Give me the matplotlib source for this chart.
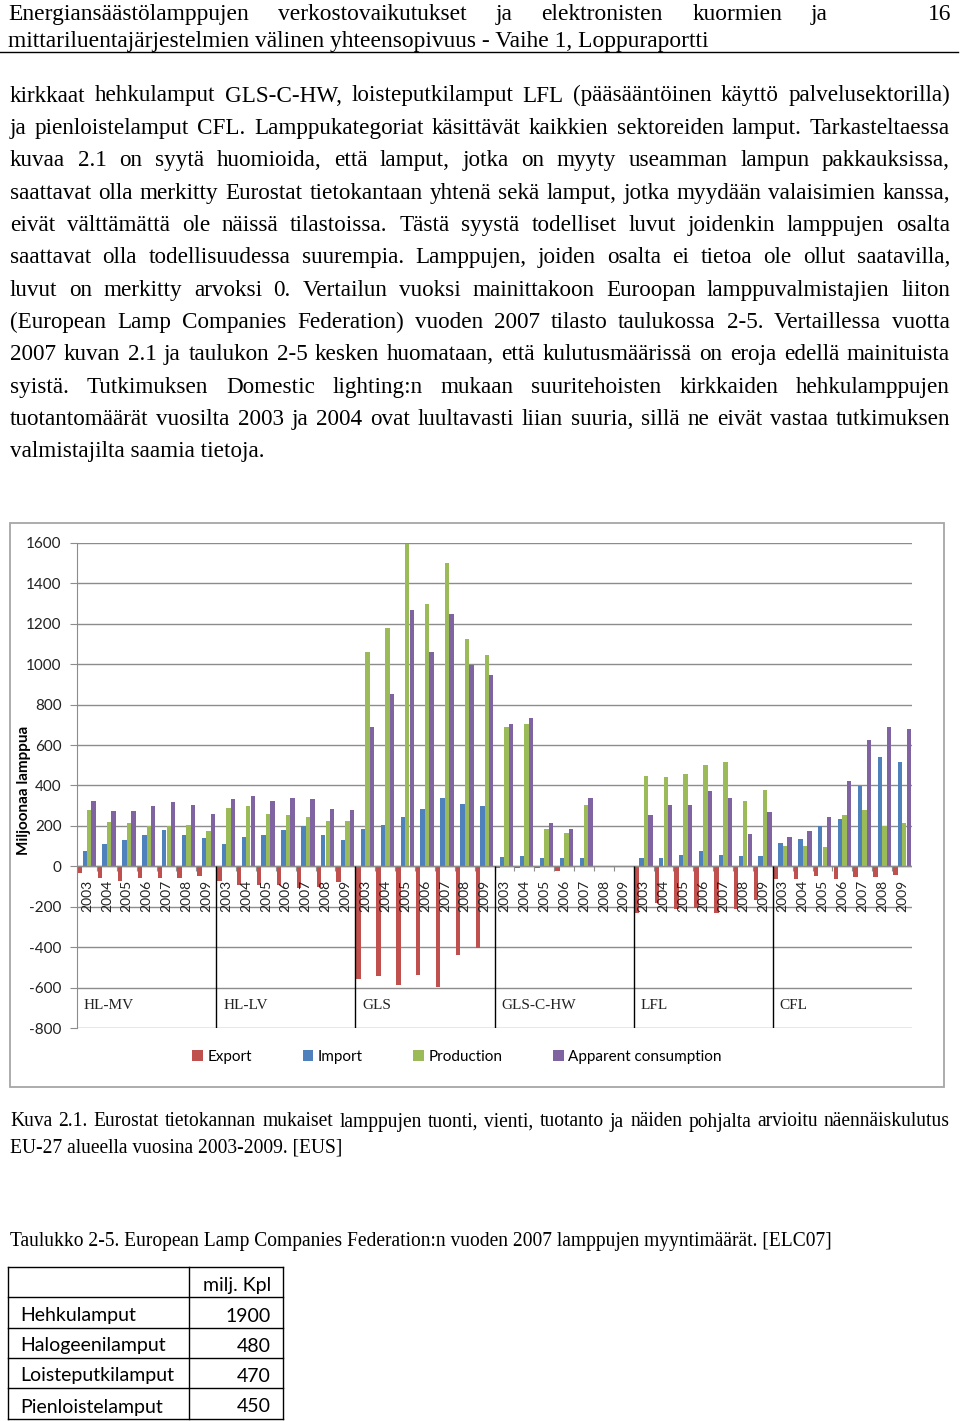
import matplotlib
matplotlib.use('Agg')
import matplotlib.pyplot as plt
import numpy as np
from matplotlib.patches import Rectangle
from matplotlib.lines import Line2D

# ---------------- data ----------------
groups = ["HL-MV", "HL-LV", "GLS", "GLS-C-HW", "LFL", "CFL"]
years = ["2003", "2004", "2005", "2006", "2007", "2008", "2009"]
series_names = ["Export", "Import", "Production", "Apparent consumption"]

export_vals = [-33, -58, -75, -58, -58, -58, -47,
               -75, -92, -92, -92, -108, -100, -80,
               -558, -542, -587, -537, -597, -438, -403,
               -10, -8, -8, -25, -3, 0, 0,
               -230, -180, -213, -208, -230, -213, -167,
               -63, -63, -50, -63, -55, -55, -42]
import_vals = [75, 112, 130, 155, 178, 155, 142,
               110, 145, 153, 181, 201, 153, 129,
               185, 206, 244, 285, 338, 308, 297,
               46, 53, 41, 41, 41, 0, 0,
               41, 41, 54, 74, 54, 53, 53,
               115, 135, 201, 232, 396, 540, 515]
production_vals = [280, 218, 215, 200, 198, 207, 173,
                   289, 297, 259, 256, 243, 226, 226,
                   1059, 1180, 1597, 1300, 1500, 1127, 1048,
                   690, 705, 185, 165, 305, 0, 0,
                   449, 440, 459, 503, 515, 322, 376,
                   99, 99, 94, 256, 280, 201, 215]
apparent_vals = [322, 275, 275, 297, 317, 305, 257,
                 335, 347, 322, 338, 333, 285, 277,
                 690, 855, 1270, 1059, 1249, 998, 945,
                 705, 736, 215, 185, 338, 0, 0,
                 256, 305, 305, 371, 338, 160, 267,
                 143, 176, 244, 422, 627, 690, 681]
yticks = [-800, -600, -400, -200, 0, 200, 400, 600, 800, 1000, 1200, 1400, 1600]

table_rows = ["Hehkulamput", "Halogeenilamput", "Loisteputkilamput", "Pienloistelamput"]
table_vals = ["1900", "480", "470", "450"]
table_header = "milj. Kpl"

header_lines = ["Energiansäästölamppujen verkostovaikutukset ja elektronisten kuormien ja",
                "mittariluentajärjestelmien välinen yhteensopivuus - Vaihe 1, Loppuraportti"]
page_no = "16"
body_lines = [
    "kirkkaat hehkulamput GLS-C-HW, loisteputkilamput LFL (pääsääntöinen käyttö palvelusektorilla)",
    "ja pienloistelamput CFL. Lamppukategoriat käsittävät kaikkien sektoreiden lamput. Tarkasteltaessa",
    "kuvaa 2.1 on syytä huomioida, että lamput, jotka on myyty useamman lampun pakkauksissa,",
    "saattavat olla merkitty Eurostat tietokantaan yhtenä sekä lamput, jotka myydään valaisimien kanssa,",
    "eivät välttämättä ole näissä tilastoissa. Tästä syystä todelliset luvut joidenkin lamppujen osalta",
    "saattavat olla todellisuudessa suurempia. Lamppujen, joiden osalta ei tietoa ole ollut saatavilla,",
    "luvut on merkitty arvoksi 0. Vertailun vuoksi mainittakoon Euroopan lamppuvalmistajien liiton",
    "(European Lamp Companies Federation) vuoden 2007 tilasto taulukossa 2-5. Vertaillessa vuotta",
    "2007 kuvan 2.1 ja taulukon 2-5 kesken huomataan, että kulutusmäärissä on eroja edellä mainituista",
    "syistä. Tutkimuksen Domestic lighting:n mukaan suuritehoisten kirkkaiden hehkulamppujen",
    "tuotantomäärät vuosilta 2003 ja 2004 ovat luultavasti liian suuria, sillä ne eivät vastaa tutkimuksen",
    "valmistajilta saamia tietoja.",
]
caption_lines = ["Kuva 2.1. Eurostat tietokannan mukaiset lamppujen tuonti, vienti, tuotanto ja  näiden pohjalta arvioitu näennäiskulutus",
                 "EU-27 alueella vuosina 2003-2009. [EUS]"]
table_title = "Taulukko 2-5. European Lamp Companies Federation:n vuoden 2007 lamppujen myyntimäärät. [ELC07]"

colors = ["#C0504D", "#4F81BD", "#9BBB59", "#8064A2"]

# ---------------- figure ----------------
W, H = 960, 1421
fig = plt.figure(figsize=(9.6, 14.21), dpi=100)
fig.patch.set_facecolor("white")
renderer = fig.canvas.get_renderer()

def fx(x):
    return x / W

def fy(y):
    return 1 - y / H

SERIF = "Liberation Serif"
SANS = "Lato"

def tw(s, size, family, weight="normal"):
    t = fig.text(0, 0, s, fontsize=size, family=family, weight=weight)
    w = t.get_window_extent(renderer=renderer).width
    t.remove()
    return w

def fit(s, family, target):
    return 10 * target / tw(s, 10, family)

def put(s, x, y, size, family, ha="left", weight="normal"):
    fig.text(fx(x), fy(y), s, fontsize=size, family=family, ha=ha, va="baseline", weight=weight)

def justify(s, x0, x1, y, size, family):
    words = s.split()
    ws = [tw(w, size, family) for w in words]
    gap = (x1 - x0 - sum(ws)) / (len(words) - 1)
    x = x0
    for w, wd in zip(words, ws):
        put(w, x, y, size, family)
        x += wd + gap

# header
hsize = fit(header_lines[1], SERIF, 703)
justify(header_lines[0], 8, 828, 20, hsize, SERIF)
put(header_lines[1], 8, 47, hsize, SERIF)
put(page_no, 951, 20, hsize, SERIF, ha="right")
fig.add_artist(Line2D([fx(0), fx(958)], [fy(52), fy(52)], color="black", lw=1, transform=fig.transFigure))

# body
bsize = fit(body_lines[-1], SERIF, 255)
for i, line in enumerate(body_lines):
    y = 101.5 + 32.35 * i
    if i < len(body_lines) - 1:
        justify(line, 10, 950, y, bsize, SERIF)
    else:
        put(line, 10, y, bsize, SERIF)

# captions
csize = fit(table_title, SERIF, 822)
justify(caption_lines[0], 10, 950, 1126.5, csize, SERIF)
put(caption_lines[1], 10, 1152, csize, SERIF)
put(table_title, 10, 1246, csize, SERIF)

# ---------------- chart ----------------
fig.add_artist(Rectangle((fx(10), fy(1087)), (944 - 10) / W, (1087 - 523) / H,
                         transform=fig.transFigure, fill=False, ec="#a6a6a6", lw=1.3))

ax = fig.add_axes([fx(77), fy(1028), (912 - 77) / W, (1028 - 543) / H])
ax.set_xlim(-0.5, 41.5)
ax.set_ylim(-800, 1600)
x = np.arange(42)
bw = 0.22
data = [export_vals, import_vals, production_vals, apparent_vals]
handles = []
for k, (vals, c) in enumerate(zip(data, colors)):
    h = ax.bar(x + (k - 1.5) * 0.225, vals, width=bw, color=c, zorder=3, linewidth=0)
    handles.append(h)

ax.set_yticks(yticks)
ax.set_yticklabels([str(v) for v in yticks], fontsize=11, family=SANS)
ax.yaxis.grid(True, color="#8c8c8c", lw=1)
ax.set_axisbelow(True)
ax.tick_params(axis="y", direction="out", length=5, color="#8c8c8c", pad=6, labelcolor="#222222")
ax.set_xticks([])
for sp in ["top", "right", "bottom"]:
    ax.spines[sp].set_visible(False)
ax.spines["left"].set_color("#8c8c8c")
ax.axhline(0, color="#8c8c8c", lw=1, zorder=4)

# minor ticks between categories
ax.vlines(np.arange(0.5, 41.5, 1.0), -22, 0, color="#8c8c8c", lw=0.8, zorder=4)
# group separators
for g in range(1, len(groups)):
    ax.vlines(g * 7 - 0.5, -800, 0, color="black", lw=1, zorder=5)

for i in range(42):
    ax.text(i, -68, years[i % 7], rotation=90, ha="center", va="top", fontsize=10,
            family=SANS, color="#222222", zorder=6)
for g, name in enumerate(groups):
    ax.text(g * 7 - 0.5 + 0.35, -690, name, ha="left", va="center", fontsize=11,
            family=SERIF, color="#222222", zorder=6)

fig.text(fx(24), fy(790), "Miljoonaa lamppua", rotation=90, ha="center", va="center",
         fontsize=11, fontweight="bold", family=SANS)

fig.legend(handles, series_names, loc="center", bbox_to_anchor=(fx(457), fy(1057)), ncol=4,
           frameon=False, prop={"family": SANS, "size": 11}, handlelength=0.7, handleheight=0.7,
           handletextpad=0.3, columnspacing=3.3)

# ---------------- table ----------------
rows_y = [1267, 1297, 1328, 1358, 1388, 1419]
tx0, tx1, tx2 = 8, 189, 283
for yy in rows_y:
    fig.add_artist(Line2D([fx(tx0), fx(tx2)], [fy(yy), fy(yy)], color="black", lw=1, transform=fig.transFigure))
for xx in [tx0, tx1, tx2]:
    fig.add_artist(Line2D([fx(xx), fx(xx)], [fy(rows_y[0]), fy(rows_y[-1])], color="black", lw=1, transform=fig.transFigure))
tsize = fit(table_rows[2], SANS, 155)
put(table_header, 271, rows_y[1] - 6, tsize, SANS, ha="right")
for r, (name, val) in enumerate(zip(table_rows, table_vals)):
    yb = rows_y[r + 2] - 6.5
    put(name, 20.5, yb, tsize, SANS)
    put(val, 271, yb, tsize, SANS, ha="right")

fig.savefig("out.png", dpi=100, facecolor="white")
